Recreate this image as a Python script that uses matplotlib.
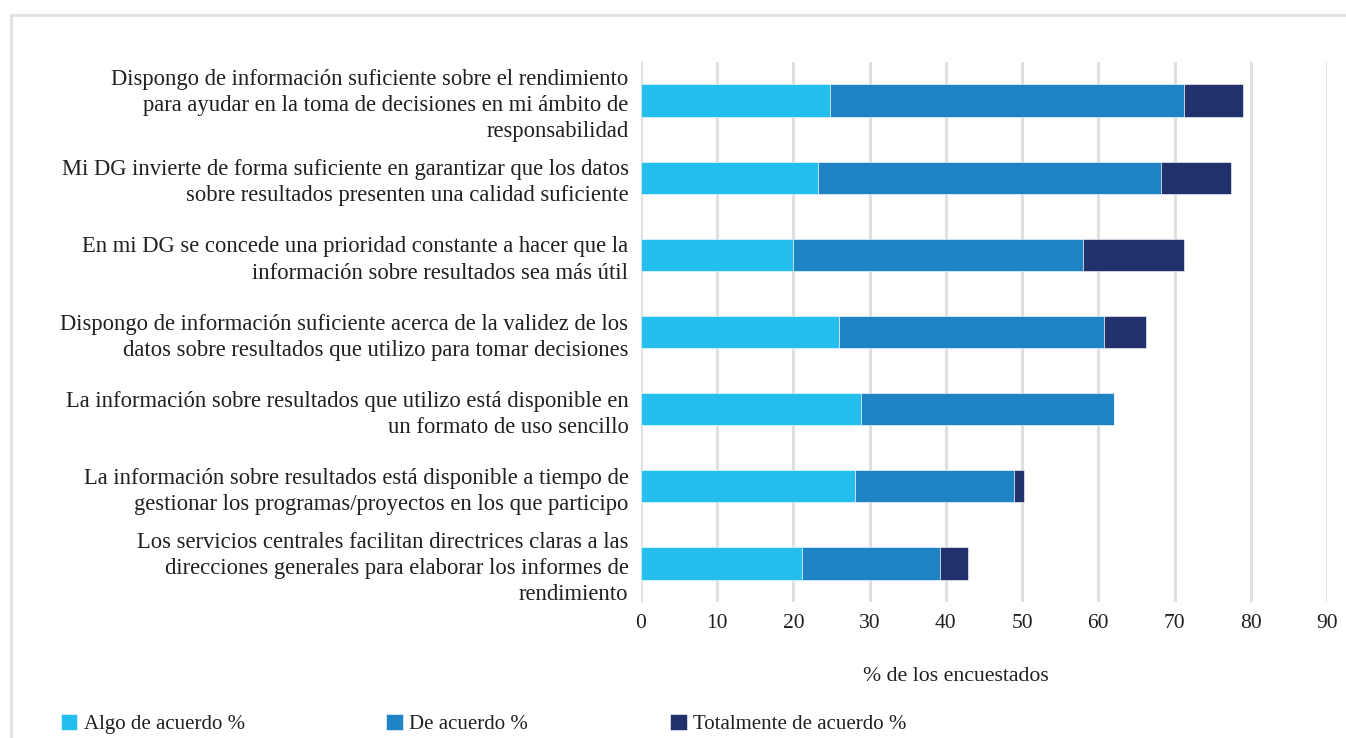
import numpy as np
import matplotlib.pyplot as plt
from matplotlib.lines import Line2D

categories = [
    "Dispongo de información suficiente sobre el rendimiento\npara ayudar en la toma de decisiones en mi ámbito de\nresponsabilidad",
    "Mi DG invierte de forma suficiente en garantizar que los datos\nsobre resultados presenten una calidad suficiente",
    "En mi DG se concede una prioridad constante a hacer que la\ninformación sobre resultados sea más útil",
    "Dispongo de información suficiente acerca de la validez de los\ndatos sobre resultados que utilizo para tomar decisiones",
    "La información sobre resultados que utilizo está disponible en\nun formato de uso sencillo",
    "La información sobre resultados está disponible a tiempo de\ngestionar los programas/proyectos en los que participo",
    "Los servicios centrales facilitan directrices claras a las\ndirecciones generales para elaborar los informes de\nrendimiento",
]
algo = [24.8, 23.2, 19.9, 26.0, 28.9, 28.1, 21.1]
de_acuerdo = [46.4, 45.0, 38.1, 34.8, 33.2, 20.8, 18.1]
totalmente = [7.8, 9.2, 13.2, 5.5, 0.0, 1.4, 3.7]
series_names = ["Algo de acuerdo %", "De acuerdo %", "Totalmente de acuerdo %"]
xticks = np.arange(0, 100, 10)

colors = ["#25BFEF", "#1E84C6", "#22326C"]
text_color = "#231F20"
plt.rcParams["font.family"] = ["Liberation Serif", "DejaVu Serif"]

fig = plt.figure(figsize=(13.46, 7.38), dpi=100)
ax = fig.add_axes([641 / 1346, 1 - 602 / 738, 686 / 1346, 540 / 738])

y = np.arange(len(categories))
left = np.zeros(len(categories))
for vals, name, c in zip([algo, de_acuerdo, totalmente], series_names, colors):
    vals = np.array(vals)
    ax.barh(y, vals, left=left, height=0.42, color=c, label=name,
            edgecolor="white", linewidth=0.4, zorder=3)
    left += vals

ax.set_ylim(len(categories) - 0.5, -0.5)
ax.set_xlim(0, 90)
ax.set_xticks(xticks)
ax.set_yticks(y)
ax.set_yticklabels(categories, fontsize=16.3, color=text_color,
                   linespacing=1.33)
ax.tick_params(axis="x", labelsize=15.5, colors=text_color, length=0, pad=9)
ax.tick_params(axis="y", length=0, pad=9)
for lab in ax.get_yticklabels():
    lab.set_horizontalalignment("right")
ax.grid(axis="x", color="#E0E0E0", linewidth=2.2, zorder=0)
for s in ax.spines.values():
    s.set_visible(False)

ax.set_xlabel("% de los encuestados", fontsize=15.7, color=text_color)
ax.xaxis.set_label_coords(0.459, -0.12)

fig.legend(loc="lower left", bbox_to_anchor=(42 / 1346, -0.02), ncol=3,
           frameon=False, fontsize=15, handlelength=0.8, handleheight=0.8,
           handletextpad=0.3, columnspacing=6.8, labelcolor=text_color)

# light frame around the chart
fig.add_artist(Line2D([11 / 1346, 1], [1 - 15 / 738, 1 - 15 / 738],
                      color="#E3E3E3", linewidth=2.2))
fig.add_artist(Line2D([11 / 1346, 11 / 1346], [0, 1 - 15 / 738],
                      color="#E3E3E3", linewidth=2.2))

fig.savefig("out.png", dpi=100)
